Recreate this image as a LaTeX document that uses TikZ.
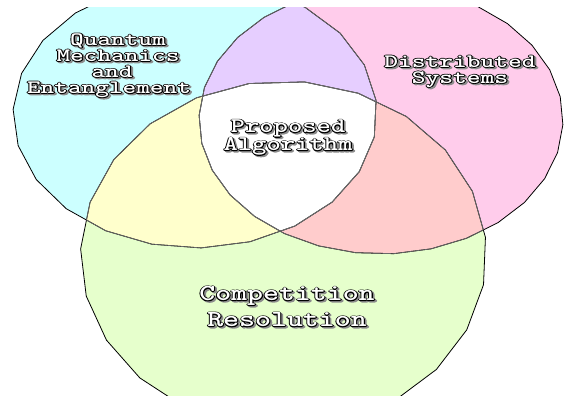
\documentclass[tikz,border=0pt]{standalone}
\usepackage{graphicx}
\definecolor{cyanc}{RGB}{204,255,255}
\definecolor{pinkc}{RGB}{255,204,235}
\definecolor{greenc}{RGB}{230,255,204}
\definecolor{purplec}{RGB}{230,206,255}
\definecolor{yellowc}{RGB}{255,255,204}
\definecolor{redc}{RGB}{255,204,204}
\definecolor{innerline}{RGB}{105,105,105}
\definecolor{shgray}{RGB}{140,140,140}
\newcommand\fancytxt[1]{\leavevmode
\rlap{\kern1.3pt\raisebox{-1.3pt}{\color{shgray}\special{pdf:literal direct 2 Tr 1.8 w 1 j}#1\special{pdf:literal direct 0 Tr}}}%
\rlap{\color{black}\special{pdf:literal direct 1 Tr 1.6 w 1 j}#1\special{pdf:literal direct 0 Tr}}%
{\color{white}#1}}
\newcommand\lbl[2]{\scalebox{#1}[1]{\fancytxt{#2}}}
\def\CyanE{plot[domain=182:542,samples=24] ({195+182*cos(\x)},{114+134*sin(\x)}) -- cycle}
\def\PinkE{plot[domain=2:362,samples=31] ({381+182*cos(\x)},{120+134*sin(\x)}) -- cycle}
\def\GreenE{plot[domain=182:542,samples=24] ({283.5+203*cos(\x)},{255+174*sin(\x)}) -- cycle}
\tikzset{
  outer/.style={draw=black, line width=0.8pt, line join=round},
  inner/.style={draw=innerline, line width=0.7pt, line join=round},
  smalllabel/.style={align=center, font=\ttfamily\bfseries\fontsize{19}{16}\selectfont},
  midlabel/.style={align=center, font=\ttfamily\bfseries\fontsize{21}{18}\selectfont},
  biglabel/.style={align=center, font=\ttfamily\bfseries\fontsize{23}{26}\selectfont}
}
\begin{document}
\lineskiplimit=-50pt
\begin{tikzpicture}[x=1pt,y=-1pt]
\useasboundingbox (0,0) rectangle (564,397);
\begin{scope}
\clip (0,7) rectangle (564,395);
\fill[cyanc] \CyanE;
\fill[pinkc] \PinkE;
\fill[greenc] \GreenE;
\begin{scope}\clip \CyanE; \fill[purplec] \PinkE; \end{scope}
\begin{scope}\clip \CyanE; \fill[yellowc] \GreenE; \end{scope}
\begin{scope}\clip \PinkE; \fill[redc] \GreenE; \end{scope}
\begin{scope}\clip \CyanE; \clip \PinkE; \fill[white] \GreenE; \end{scope}
\path[outer] \CyanE;
\path[outer] \PinkE;
\path[outer] \GreenE;
\begin{scope}\clip \PinkE; \path[inner] \CyanE; \path[inner] \GreenE; \end{scope}
\begin{scope}\clip \CyanE; \path[inner] \PinkE; \path[inner] \GreenE; \end{scope}
\begin{scope}\clip \GreenE; \path[inner] \CyanE; \path[inner] \PinkE; \end{scope}
\end{scope}
\node[smalllabel] (qm) at (112,66) {\hspace*{12pt}\lbl{1.37}{Quantum}\\\hspace*{12pt}\lbl{1.37}{Mechanics}\\\lbl{1.37}{and}\\\hspace*{-6pt}\lbl{1.37}{Entanglement}};
\node[smalllabel] (ds) at (460,72) {\lbl{1.38}{Distributed}\\\lbl{1.38}{Systems}};
\node[midlabel] (pa) at (288,138) {\lbl{1.3}{Proposed}\\\lbl{1.3}{Algorithm}};
\node[biglabel] (cr) at (287,307) {\lbl{1.32}{Competition}\\\lbl{1.32}{Resolution}};
\end{tikzpicture}
\end{document}
